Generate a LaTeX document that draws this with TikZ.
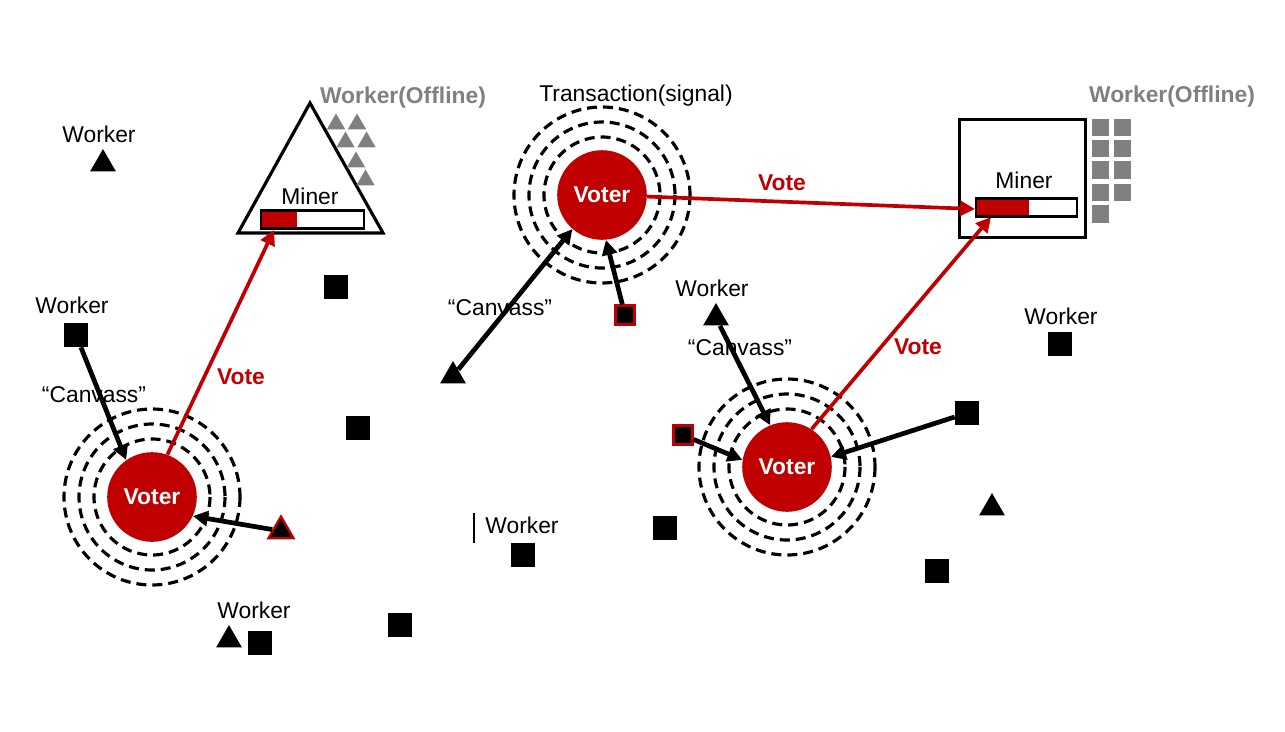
\documentclass[tikz,border=0pt]{standalone}
\usepackage{fontspec}
\setmainfont{Liberation Sans}
\usetikzlibrary{arrows.meta,shapes.geometric}
\definecolor{vred}{HTML}{C00000}
\definecolor{offgray}{HTML}{808080}
\begin{document}
\begin{tikzpicture}[x=0.02cm,y=-0.02cm,
  lbl/.style={font=\fontsize{13}{15}\selectfont, inner sep=0},
  offl/.style={font=\fontsize{13}{15}\selectfont\bfseries, text=offgray, inner sep=0},
  votelbl/.style={font=\fontsize{13}{15}\selectfont\bfseries, text=vred, inner sep=0},
  wsq/.style={rectangle, fill=black, minimum size=13.6pt, inner sep=0},
  rsq/.style={rectangle, fill=black, draw=vred, line width=1.3pt, minimum size=10.8pt, inner sep=0},
  wtri/.style={regular polygon, regular polygon sides=3, fill=black, minimum size=17pt, inner sep=0},
  rtri/.style={regular polygon, regular polygon sides=3, fill=black, draw=vred, line width=1.3pt, minimum size=16.5pt, inner sep=0},
  gtri/.style={regular polygon, regular polygon sides=3, fill=offgray, minimum size=12pt, inner sep=0},
  gsq/.style={rectangle, fill=offgray, minimum size=10pt, inner sep=0},
  voter/.style={circle, fill=vred, text=white, font=\fontsize{13}{15}\selectfont\bfseries, minimum size=51pt, inner sep=0},
  ring/.style={line width=1.8pt, dash pattern=on 5.7pt off 3.4pt},
  canv/.style={-{Triangle[length=8.5pt,width=8.5pt]}, line width=2.7pt},
  votearr/.style={-{Triangle[length=8.5pt,width=8.5pt]}, draw=vred, fill=vred, line width=2.1pt},
  outline/.style={draw=black, line width=1.8pt}
]
\useasboundingbox[fill=white] (0,0) rectangle (1285,731);

% ---------- left miner (triangle) ----------
\coordinate (ma) at (310,103);
\coordinate (mb) at (383,233);
\coordinate (mc) at (238,233);
\draw[outline, line join=miter] (ma) -- (mb) -- (mc) -- cycle;
\node[lbl] (miner1) at (310,196) {Miner};
\node[rectangle, fill=vred, minimum width=37*0.02cm, minimum height=18*0.02cm, inner sep=0, anchor=west] (bar1r) at (260,219.5) {};
\node[rectangle, draw=black, line width=1.3pt, minimum width=103*0.02cm, minimum height=18*0.02cm, inner sep=0, anchor=west] (bar1) at (260,219.5) {};
\coordinate (t1) at (274,230);
\node[offl] (off1) at (403,98) {Worker(Offline)};
\node[gtri] (g1) at (336,124) {};
\node[gtri] (g2) at (357,124) {};
\node[gtri] (g3) at (345.5,142) {};
\node[gtri] (g4) at (366.5,142) {};
\node[gtri] (g5) at (356,162) {};
\node[gtri] (g6) at (365.5,180) {};

% ---------- right miner (square) ----------
\node[rectangle, outline, minimum width=126*0.02cm, minimum height=118*0.02cm, inner sep=0] (mbox) at (1022.5,178.5) {};
\node[lbl] (miner2) at (1024,180) {Miner};
\node[rectangle, fill=vred, minimum width=54*0.02cm, minimum height=18*0.02cm, inner sep=0, anchor=west] (bar2r) at (975,207.5) {};
\node[rectangle, draw=black, line width=1.3pt, minimum width=101*0.02cm, minimum height=18*0.02cm, inner sep=0, anchor=west] (bar2) at (975,207.5) {};
\coordinate (t2) at (975,209);
\coordinate (t3) at (991,217);
\node[offl] (off2) at (1172,97) {Worker(Offline)};
\foreach \yy [count=\i] in {127.5,148.5,170,192.5}{
  \node[gsq] (gs\i a) at (1100.5,\yy) {};
  \node[gsq] (gs\i b) at (1122.5,\yy) {};
}
\node[gsq] (gs5a) at (1100.5,214) {};

% ---------- rings ----------
\coordinate (c1) at (152,497);
\coordinate (c2) at (602,195);
\coordinate (c3) at (787,467);
\foreach \c in {c1,c2,c3}{
  \foreach \r in {58,73,88}{
    \draw[ring] (\c) circle[radius=\r];
  }
}

% ---------- voters ----------
\node[voter] (v1) at (c1) {Voter};
\node[voter] (v2) at (c2) {Voter};
\node[voter] (v3) at (c3) {Voter};

% ---------- labels ----------
\node[lbl] (tx) at (636,96) {Transaction(signal)};
\node[lbl] (lw1) at (99,134) {Worker};
\node[lbl] (lw2) at (72,305) {Worker};
\node[lbl] (lw3) at (254,610) {Worker};
\node[lbl] (lw4) at (712,288) {Worker};
\node[lbl] (lw5) at (1061,316) {Worker};
\node[lbl] (lw6) at (522,525) {Worker};
\coordinate (bar6a) at (474,513);
\coordinate (bar6b) at (474,543);
\draw[line width=0.6pt] (bar6a) -- (bar6b);
\node[lbl] (cv1) at (94,395) {“Canvass”};
\node[lbl] (cv2) at (500,308) {“Canvass”};
\node[lbl] (cv3) at (740,348) {“Canvass”};
\node[votelbl] (vl1) at (241,377) {Vote};
\node[votelbl] (vl2) at (782,183) {Vote};
\node[votelbl] (vl3) at (918,347) {Vote};

% ---------- workers ----------
\node[wtri] (wt1) at (103,164) {};
\node[wsq]  (ws2) at (76,335) {};
\node[wtri] (wt3) at (229,640) {};
\node[wsq]  (ws3) at (260,643) {};
\node[wsq]  (ws4) at (336,287) {};
\node[wsq]  (ws5) at (358,428) {};
\node[wsq]  (ws6) at (400,625) {};
\node[wsq]  (ws7) at (523,555) {};
\node[wsq]  (ws8) at (665,528) {};
\node[wsq]  (ws9) at (937,571) {};
\node[wsq]  (ws10) at (967,413) {};
\node[wsq]  (ws11) at (1060,344) {};
\node[wtri] (wt12) at (453,376) {};
\node[wtri] (wt13) at (716,318) {};
\node[wtri] (wt14) at (992,508) {};
\node[rtri] (rt1) at (281,531) {};
\node[rsq]  (rs1) at (625,315) {};
\node[rsq]  (rs2) at (683,435) {};

% ---------- arrows ----------
\draw[canv] (ws2) -- (v1.125);
\draw[canv] (rt1) -- (v1.-25);
\draw[canv] (wt12) -- (v2.229);
\draw[canv] (rs1) -- (v2.-85);
\draw[canv] (wt13) -- (v3.112);
\draw[canv] (rs2) -- (v3.171);
\draw[canv] (ws10) -- (v3.13);
\draw[votearr] (v1.70) -- (t1);
\draw[votearr] (v2.-2) -- (t2);
\draw[votearr] (v3.57) -- (t3);
\end{tikzpicture}
\end{document}
